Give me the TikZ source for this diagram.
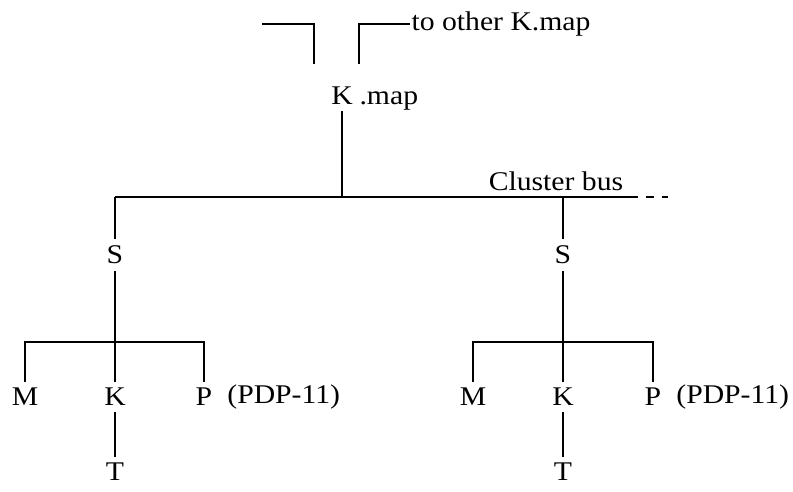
\documentclass[tikz,border=0pt]{standalone}
\usepackage{fontspec}
\setmainfont{Liberation Serif}[FakeStretch=1.1]
\begin{document}
\begin{tikzpicture}[x=1pt,y=-1pt,line width=1.1pt,
    lbl/.style={inner sep=6pt,font=\fontsize{27}{31}\selectfont}]
        \useasboundingbox (0,0) rectangle (793,491);

        % top: K.map and the links to other K.maps
        \node[lbl] (kmap) at (342,96) {K};
        \node[lbl,anchor=base west,inner xsep=0pt] (mapt) at (359,0 |- kmap.base) {.map};
        \coordinate (ul) at (262,24);
        \coordinate (ur) at (410,24);
        \draw (ul) -- (314,24) -- (314,64);
        \draw (359,64) -- (359,24) -- (ur);
        \node[lbl,anchor=west,inner xsep=1pt] (other) at (ur) {to other K.map};

        % cluster bus
        \coordinate (bl) at (115,197);
        \coordinate (br) at (630,197);
        \coordinate (be) at (668,197);
        \draw (bl) -- (br);
        \draw[dash pattern=on 8pt off 8pt] (br) -- (be);
        \draw (kmap.south) -- (kmap.south |- bl);
        \node[lbl] (cbus) at (556,181) {Cluster bus};

        % left cluster
        \node[lbl] (s1) at (115,255) {S};
        \node[lbl] (m1) at (25,397) {M};
        \node[lbl] (k1) at (115,397) {K};
        \node[lbl] (p1) at (204,397) {P};
        \node[lbl,anchor=west,inner xsep=8pt] (pdp1) at (p1.east) {(PDP-11)};
        \node[lbl] (t1) at (115,472) {T};
        \draw (bl) -- (s1.north);
        \draw (s1) -- (k1);
        \draw (m1.north) -- (m1.north |- 0,342) -- (p1.north |- 0,342) -- (p1.north);
        \draw (k1) -- (t1);

        % right cluster
        \node[lbl] (s2) at (563,255) {S};
        \node[lbl] (m2) at (473,397) {M};
        \node[lbl] (k2) at (563,397) {K};
        \node[lbl] (p2) at (653,397) {P};
        \node[lbl,anchor=west,inner xsep=8pt] (pdp2) at (p2.east) {(PDP-11)};
        \node[lbl] (t2) at (563,472) {T};
        \draw (s2.north |- bl) -- (s2.north);
        \draw (s2) -- (k2);
        \draw (m2.north) -- (m2.north |- 0,342) -- (p2.north |- 0,342) -- (p2.north);
        \draw (k2) -- (t2);
    \end{tikzpicture}
\end{document}
